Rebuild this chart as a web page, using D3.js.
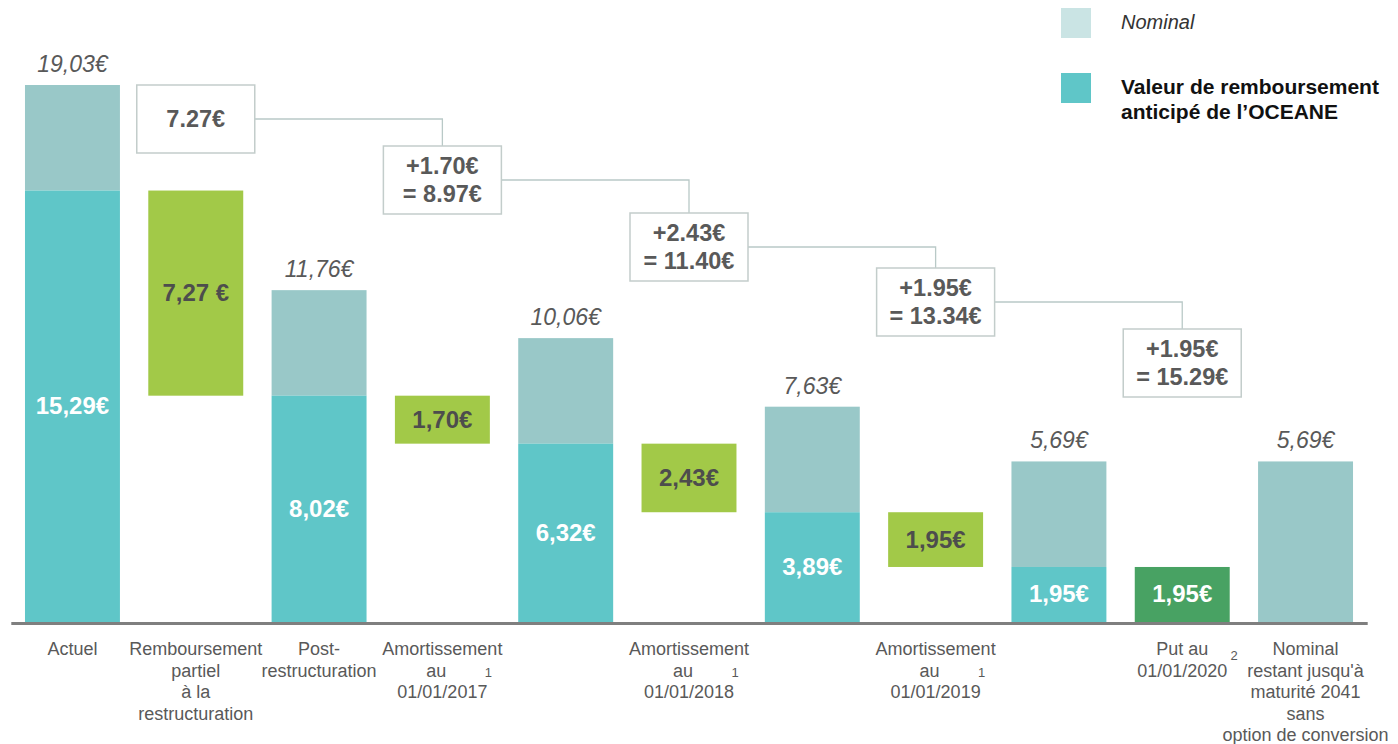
<!DOCTYPE html>
<html>
<head>
<meta charset="utf-8">
<script src="https://cdn.jsdelivr.net/npm/d3@7"></script>
<style>
  body { margin: 0; background: white; }
  svg text { font-family: "Liberation Sans", Arial, sans-serif; }
</style>
</head>
<body>
<div id="chart"></div>
<script>
// categories (one entry per slot, lines of the label)
const categoryLines = [
    ["Actuel"],
    ["Remboursement", "partiel", "à la", "restructuration"],
    ["Post-", "restructuration"],
    ["Amortissement", "au", "01/01/2017"],
    [],
    ["Amortissement", "au", "01/01/2018"],
    [],
    ["Amortissement", "au", "01/01/2019"],
    [],
    ["Put au", "01/01/2020"],
    ["Nominal", "restant jusqu'à", "maturité 2041", "sans", "option de conversion"]
];
const footnotes = [null, null, null, "1", null, "1", null, "1", null, "2", null];

// stacked bars: total nominal and early redemption value
const nominal    = [19.03, null, 11.76, null, 10.06, null, 7.63, null, 5.69, null, 5.69];
const redemption = [15.29, null, 8.02, null, 6.32, null, 3.89, null, 1.95, null, 0];

// floating steps
const stepIndex  = [1, 3, 5, 7, 9];
const stepHigh   = [15.29, 8.02, 6.32, 3.89, 1.95];
const stepLow    = [8.02, 6.32, 3.89, 1.95, 0];
const stepLabels = ["7,27 €", "1,70€", "2,43€", "1,95€", "1,95€"];

// cumulative callouts
const calloutLines = [
    ["7.27€"],
    ["+1.70€", "= 8.97€"],
    ["+2.43€", "= 11.40€"],
    ["+1.95€", "= 13.34€"],
    ["+1.95€", "= 15.29€"]
];

const legendItems = [
    {lines: ["Nominal"], color: "#cae4e4", italic: true},
    {lines: ["Valeur de remboursement", "anticipé de l\u2019OCEANE"], color: "#5fc6c8", italic: false}
];

const W = 1398, H = 744;
const baseY = 622;
const colNominal = "#99c8c8", colTeal = "#5fc6c8", colGreen = "#a2c948", colDarkGreen = "#48a263";
const textGray = "#595959";

const svg = d3.select("#chart").append("svg")
    .attr("width", W)
    .attr("height", H);

const x = d3.scaleBand()
    .domain(d3.range(categoryLines.length))
    .range([10.8, 1367.2])
    .paddingInner(0.23)
    .paddingOuter(0.115);

const y = d3.scaleLinear()
    .domain([0, 19.03])
    .range([baseY, 85]);

const bw = x.bandwidth();
const cx = i => x(i) + bw/2;

// stacked bars
const stacked = d3.range(nominal.length).filter(i => nominal[i] !== null);
const bars = svg.append("g");
bars.selectAll(".nom").data(stacked).join("rect")
    .attr("x", i => x(i))
    .attr("width", bw)
    .attr("y", i => y(nominal[i]))
    .attr("height", i => y(redemption[i]) - y(nominal[i]))
    .style("fill", colNominal);
bars.selectAll(".red").data(stacked.filter(i => redemption[i] > 0)).join("rect")
    .attr("x", i => x(i))
    .attr("width", bw)
    .attr("y", i => y(redemption[i]))
    .attr("height", i => y(0) - y(redemption[i]))
    .style("fill", colTeal);

// total labels
bars.selectAll(".tot").data(stacked).join("text")
    .attr("x", i => cx(i))
    .attr("y", i => y(nominal[i]) - 13)
    .attr("text-anchor", "middle")
    .style("font-size", "23px")
    .style("font-style", "italic")
    .style("fill", textGray)
    .text(i => nominal[i].toFixed(2).replace(".", ",") + "€");

// redemption labels
bars.selectAll(".redl").data(stacked.filter(i => redemption[i] > 0)).join("text")
    .attr("x", i => cx(i))
    .attr("y", i => (y(redemption[i]) + y(0))/2 + 8)
    .attr("text-anchor", "middle")
    .style("font-size", "24px")
    .style("font-weight", "bold")
    .style("fill", "white")
    .text(i => redemption[i].toFixed(2).replace(".", ",") + "€");

// floating steps
const steps = d3.range(stepIndex.length);
const last = stepIndex.length - 1;
bars.selectAll(".step").data(steps).join("rect")
    .attr("x", k => x(stepIndex[k]))
    .attr("width", bw)
    .attr("y", k => y(stepHigh[k]))
    .attr("height", k => y(stepLow[k]) - y(stepHigh[k]))
    .style("fill", k => k === last ? colDarkGreen : colGreen);
bars.selectAll(".stepl").data(steps).join("text")
    .attr("x", k => cx(stepIndex[k]))
    .attr("y", k => (y(stepHigh[k]) + y(stepLow[k]))/2 + 8)
    .attr("text-anchor", "middle")
    .style("font-size", "24px")
    .style("font-weight", "bold")
    .style("fill", k => k === last ? "white" : "#4d4d4d")
    .text(k => stepLabels[k]);

// axis
const axis = svg.append("g")
    .attr("transform", "translate(0," + (baseY + 1) + ")")
    .call(d3.axisBottom(x).tickSize(0).tickFormat(""));
axis.select(".domain").style("stroke", "#7f7f7f").style("stroke-width", 3);

// category labels
const labels = svg.append("g");
d3.range(categoryLines.length).forEach(i => {
    categoryLines[i].forEach((line, j) => {
        let dx = 0;
        if (footnotes[i] === "1" && j === 1) dx = -6;
        labels.append("text")
            .attr("x", cx(i) + dx)
            .attr("y", 655 + j*21.5)
            .attr("text-anchor", "middle")
            .style("font-size", "18px")
            .style("fill", textGray)
            .text(line);
    });
    if (footnotes[i]) {
        const isPut = footnotes[i] === "2";
        labels.append("text")
            .attr("x", cx(i) + (isPut ? 52 : 46))
            .attr("y", isPut ? 660 : 677)
            .attr("text-anchor", "middle")
            .style("font-size", "13px")
            .style("fill", textGray)
            .text(footnotes[i]);
    }
});

// callouts
const boxW = 118, boxH = 68;
const boxTop = [85, 146, 213, 268, 329];
const callouts = svg.append("g");
steps.forEach(k => {
    const c = cx(stepIndex[k]);
    if (k < last) {
        const c2 = cx(stepIndex[k+1]);
        callouts.append("path")
            .attr("d", "M" + (c + boxW/2) + "," + (boxTop[k] + boxH/2) +
                "H" + c2 + "V" + boxTop[k+1])
            .style("fill", "none")
            .style("stroke", "#b9c9c7")
            .style("stroke-width", 1.3);
    }
    callouts.append("rect")
        .attr("x", c - boxW/2)
        .attr("y", boxTop[k])
        .attr("width", boxW)
        .attr("height", boxH)
        .style("fill", "white")
        .style("stroke", "#c3cdcb")
        .style("stroke-width", 1.5);
    const n = calloutLines[k].length;
    calloutLines[k].forEach((line, j) => {
        callouts.append("text")
            .attr("x", c)
            .attr("y", boxTop[k] + boxH/2 + 8 + (j - (n-1)/2)*28)
            .attr("text-anchor", "middle")
            .style("font-size", "23.5px")
            .style("font-weight", "bold")
            .style("fill", textGray)
            .text(line);
    });
});

// legend
const legend = svg.append("g");
legendItems.forEach((item, k) => {
    const top = 8 + k*65;
    legend.append("rect")
        .attr("x", 1061).attr("y", top)
        .attr("width", 30).attr("height", 30)
        .style("fill", item.color);
    item.lines.forEach((line, j) => {
        legend.append("text")
            .attr("x", 1121)
            .attr("y", top + 21 + j*25)
            .style("font-size", item.italic ? "20px" : "21px")
            .style("font-style", item.italic ? "italic" : "normal")
            .style("font-weight", item.italic ? "normal" : "bold")
            .style("fill", item.italic ? "#333" : "#111")
            .text(line);
    });
});
</script>
</body>
</html>
